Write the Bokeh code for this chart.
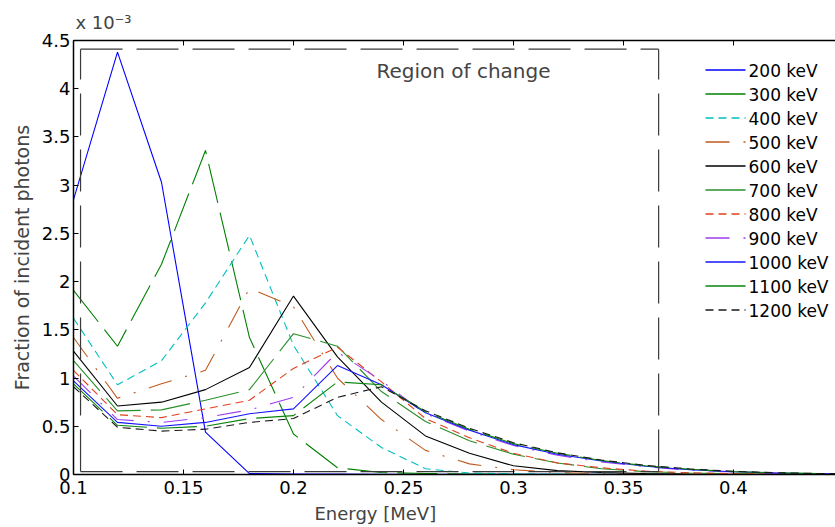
from bokeh.plotting import figure
from bokeh.models import Range1d, Label, LinearAxis, FixedTicker, CustomJSTickFormatter, Title
from bokeh.embed import file_html
from bokeh.resources import INLINE

# ---- data (fraction of incident photons, in units of 1e-3) ----
energy = [0.10, 0.12, 0.14, 0.16, 0.18, 0.20, 0.22, 0.24, 0.26, 0.28,
          0.30, 0.32, 0.34, 0.36, 0.38, 0.40, 0.42, 0.44, 0.46]

kev200 = [2.85, 4.38, 3.03, 0.44, 0.01, 0.005, 0.004, 0.003, 0.002, 0.002,
          0.001, 0.001, 0.001, 0.001, 0, 0, 0, 0, 0]
kev300 = [1.91, 1.33, 2.18, 3.36, 1.42, 0.42, 0.07, 0.02, 0.01, 0.005,
          0.003, 0.002, 0.001, 0, 0, 0, 0, 0, 0]
kev400 = [1.62, 0.93, 1.18, 1.78, 2.48, 1.34, 0.61, 0.28, 0.06, 0.015,
          0.008, 0.004, 0.002, 0.001, 0, 0, 0, 0, 0]
kev500 = [1.42, 0.79, 0.94, 1.08, 1.93, 1.74, 1.00, 0.57, 0.25, 0.11,
          0.05, 0.02, 0.01, 0.005, 0.003, 0.002, 0.001, 0, 0]
kev600 = [1.28, 0.71, 0.75, 0.88, 1.11, 1.85, 1.22, 0.75, 0.40, 0.22,
          0.09, 0.04, 0.02, 0.01, 0.005, 0.003, 0.002, 0.001, 0]
kev700 = [1.18, 0.66, 0.67, 0.77, 0.88, 1.46, 1.33, 0.86, 0.55, 0.35,
          0.21, 0.12, 0.06, 0.03, 0.015, 0.008, 0.004, 0.002, 0.001]
kev800 = [1.08, 0.62, 0.59, 0.68, 0.77, 1.10, 1.32, 0.96, 0.58, 0.38,
          0.22, 0.12, 0.07, 0.035, 0.018, 0.009, 0.005, 0.002, 0.001]
kev900 = [1.02, 0.57, 0.54, 0.59, 0.67, 0.80, 1.27, 0.97, 0.63, 0.45,
          0.30, 0.20, 0.13, 0.08, 0.045, 0.025, 0.013, 0.006, 0.003]
kev1000 = [0.97, 0.54, 0.50, 0.54, 0.63, 0.68, 1.13, 0.93, 0.64, 0.46,
           0.31, 0.21, 0.14, 0.085, 0.05, 0.028, 0.015, 0.008, 0.004]
kev1100 = [0.94, 0.51, 0.48, 0.50, 0.58, 0.61, 0.96, 0.93, 0.65, 0.47,
           0.32, 0.22, 0.145, 0.09, 0.055, 0.03, 0.017, 0.009, 0.004]
kev1200 = [0.91, 0.49, 0.45, 0.47, 0.54, 0.58, 0.80, 0.91, 0.66, 0.48,
           0.33, 0.225, 0.15, 0.095, 0.058, 0.033, 0.018, 0.01, 0.005]

series_labels = ["200 keV", "300 keV", "400 keV", "500 keV", "600 keV", "700 keV",
                 "800 keV", "900 keV", "1000 keV", "1100 keV", "1200 keV"]
series_values = [kev200, kev300, kev400, kev500, kev600, kev700,
                 kev800, kev900, kev1000, kev1100, kev1200]

xticks = [0.1, 0.15, 0.2, 0.25, 0.3, 0.35, 0.4]
yticks = [0, 0.5, 1, 1.5, 2, 2.5, 3, 3.5, 4, 4.5]

# region-of-change box (x in MeV, y in 1e-3)
region_x = [0.1032, 0.366]
region_y = [0.03, 4.41]

# ---- styles ----
colors = ["#0000FF", "#008000", "#00BFBF", "#BF5A1E", "#000000", "#2A8F2A",
          "#E0401E", "#9A3DF0", "#1414FF", "#0A850A", "#1A1A1A"]
dashes = ["solid", "40 10", "8 5", "24 14 2 14", "solid", "40 10",
          "8 5", "24 14 2 14", "solid", "40 10", "8 5"]

FONT = "DejaVu Sans"

W, H = 835, 527
BL, BT, BB = 73, 40, 53
X0, X1 = 0.1, 0.4464
Y0, Y1 = 0.0, 4.5

p = figure(width=W, height=H, output_backend="svg", toolbar_location=None,
           x_range=Range1d(X0, X1), y_range=Range1d(Y0, Y1),
           min_border_left=BL, min_border_right=0, min_border_top=BT,
           min_border_bottom=BB)
p.xgrid.visible = False
p.ygrid.visible = False
p.outline_line_color = None
p.background_fill_color = "white"
p.border_fill_color = "white"

for vals, c, d in zip(series_values, colors, dashes):
    p.line(energy, vals, line_color=c, line_width=1.1, line_dash=d)

# region box
bc = "#3a3a3a"
p.segment(x0=[region_x[0], region_x[0], region_x[1], region_x[0]],
          y0=[region_y[1], region_y[0], region_y[0], region_y[0]],
          x1=[region_x[1], region_x[1], region_x[1], region_x[0]],
          y1=[region_y[1], region_y[0], region_y[1], region_y[1]],
          line_color=bc, line_width=1.2, line_dash="42 14")

# ---- legend (drawn by hand so that every sample keeps its colour) ----
frame_w = W - BL
frame_h = H - BT - BB
def sx_to_x(px):
    return X0 + (px - BL) / frame_w * (X1 - X0)
def sy_to_y(py):
    return Y1 - (py - BT) / frame_h * (Y1 - Y0)

for i, (lab, c, d) in enumerate(zip(series_labels, colors, dashes)):
    ly = 69.5 + 24 * i
    yy = sy_to_y(ly)
    p.line([sx_to_x(705), sx_to_x(745)], [yy, yy], line_color=c, line_width=1.3, line_dash=d)
    p.add_layout(Label(x=sx_to_x(748), y=sy_to_y(ly + 1), text=lab, text_align="left",
                       text_baseline="middle", text_font=FONT, text_font_size="17px",
                       text_color="black"))

fmt = CustomJSTickFormatter(code="return (Math.round(tick*100)/100).toString();")
blank = CustomJSTickFormatter(code="return '';")

xa = p.xaxis[0]
xa.ticker = FixedTicker(ticks=xticks)
xa.formatter = fmt
xa.major_tick_in = 5
xa.major_tick_out = 0
xa.minor_tick_line_color = None
xa.axis_line_width = 1.5
xa.major_label_standoff = 6
xa.major_label_text_font = FONT
xa.major_label_text_font_size = "18px"
xa.major_label_text_color = "black"

ya = p.yaxis[0]
ya.ticker = FixedTicker(ticks=yticks)
ya.formatter = fmt
ya.major_tick_in = 5
ya.major_tick_out = 0
ya.minor_tick_line_color = None
ya.axis_line_width = 1.5
ya.major_label_standoff = 3
ya.major_label_text_font = FONT
ya.major_label_text_font_size = "18px"
ya.major_label_text_color = "black"
ya.axis_label = "Fraction of incident photons"
ya.axis_label_text_font = FONT
ya.axis_label_text_font_size = "19px"
ya.axis_label_text_font_style = "normal"
ya.axis_label_standoff = 6

top = LinearAxis(ticker=FixedTicker(ticks=xticks), formatter=blank,
                 major_tick_in=5, major_tick_out=0, minor_tick_line_color=None,
                 axis_line_width=1.5, major_label_standoff=0,
                 major_label_text_font_size="2px")
p.add_layout(top, "above")

# texts
p.add_layout(Title(text="x 10\u207b\u00b3", align="left", offset=2, standoff=16,
                   text_font=FONT, text_font_size="18px", text_font_style="normal"),
             "above")
p.add_layout(Title(text="Energy [MeV]", align="left", offset=241, standoff=8,
                   text_font=FONT, text_font_size="18px", text_font_style="normal"),
             "below")
p.add_layout(Label(x=sx_to_x(463), y=sy_to_y(70), text="Region of change",
                   text_align="center", text_baseline="middle", text_font=FONT,
                   text_font_size="20px"))

open("out.html", "w").write(file_html(p, INLINE))
